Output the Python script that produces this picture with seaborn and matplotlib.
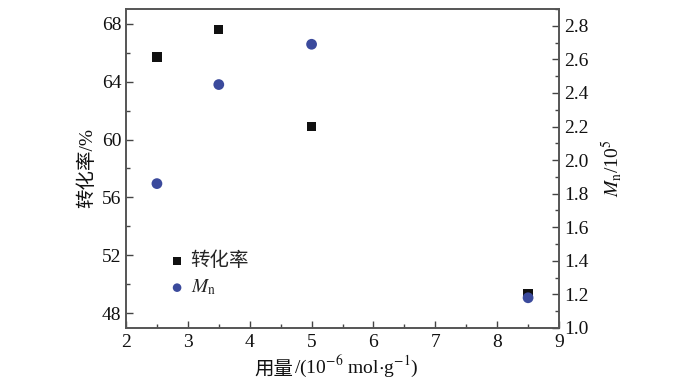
import pandas as pd
import seaborn as sns
from matplotlib import pyplot as plt
from matplotlib.ticker import MultipleLocator

# data
dosage = [2.5, 3.5, 5.0, 8.5]
conversion = [65.7, 67.6, 60.9, 49.4]
mn = [1.86, 2.45, 2.69, 1.18]

sns.set_theme(style="ticks")
plt.rcParams['font.family'] = ['Liberation Serif', 'Noto Sans CJK SC', 'DejaVu Serif']
plt.rcParams['mathtext.fontset'] = 'stix'
plt.rcParams['axes.unicode_minus'] = False

df = pd.DataFrame({'dosage': dosage, 'conversion': conversion, 'mn': mn})

fig, ax = plt.subplots(figsize=(7, 3.87), dpi=100)
fig.subplots_adjust(left=0.18, right=0.7986, top=0.9767, bottom=0.1525)
ax2 = ax.twinx()

sns.scatterplot(data=df, x='dosage', y='conversion', ax=ax, marker='s', s=45,
                color='#111111', edgecolor='none', label='转化率', legend=False)
sns.scatterplot(data=df, x='dosage', y='mn', ax=ax2, marker='o', s=60,
                color='#3b4a9c', edgecolor='none', label=r'$M_\mathrm{n}$', legend=False)

ax.set_xlim(2, 9)
ax.set_ylim(47, 69)
ax2.set_ylim(1.0, 2.9)
ax.xaxis.set_major_locator(MultipleLocator(1))
ax.xaxis.set_minor_locator(MultipleLocator(0.5))
ax.yaxis.set_major_locator(MultipleLocator(4))
ax.yaxis.set_minor_locator(MultipleLocator(2))
ax2.yaxis.set_major_locator(MultipleLocator(0.2))
ax2.yaxis.set_minor_locator(MultipleLocator(0.1))
ax2.yaxis.set_major_formatter(lambda v, p: f"{v:.1f}")

for a in (ax, ax2):
    a.tick_params(which='both', direction='in', labelsize=14, color='#444444',
                  labelcolor='#111111', width=1)
    a.tick_params(which='major', length=5)
    a.tick_params(which='minor', length=3)
    for sp in a.spines.values():
        sp.set_color('#555555')
        sp.set_linewidth(1.2)
ax.tick_params(axis='x', pad=4)

# x label: units part in mathtext, Chinese part attached on its left
ax.set_xlabel(r'/(10$^{-6}$ mol$\cdot$g$^{-1}$)', fontsize=14, color='#111111', labelpad=2)
ax.xaxis.label.set_x(0.532)
ax.annotate('用量', xy=(0, 0.5), xycoords=ax.xaxis.label, xytext=(-0.5, -3.5),
            textcoords='offset points', ha='right', va='center',
            fontsize=14, color='#111111')
ax.set_ylabel('转化率/%', fontsize=14, color='#111111', labelpad=4)
ax2.set_ylabel(r'$M_\mathrm{n}$/10$^5$', fontsize=14, color='#111111', labelpad=8)

h1, l1 = ax.get_legend_handles_labels()
h2, l2 = ax2.get_legend_handles_labels()
ax2.legend(h1 + h2, l1 + l2, loc='upper left', bbox_to_anchor=(0.10, 0.24),
           frameon=False, fontsize=14, handletextpad=0.3, labelspacing=0.4,
           handlelength=0.8, markerscale=0.8, borderaxespad=0, borderpad=0)

fig.savefig('out.png', dpi=100)
